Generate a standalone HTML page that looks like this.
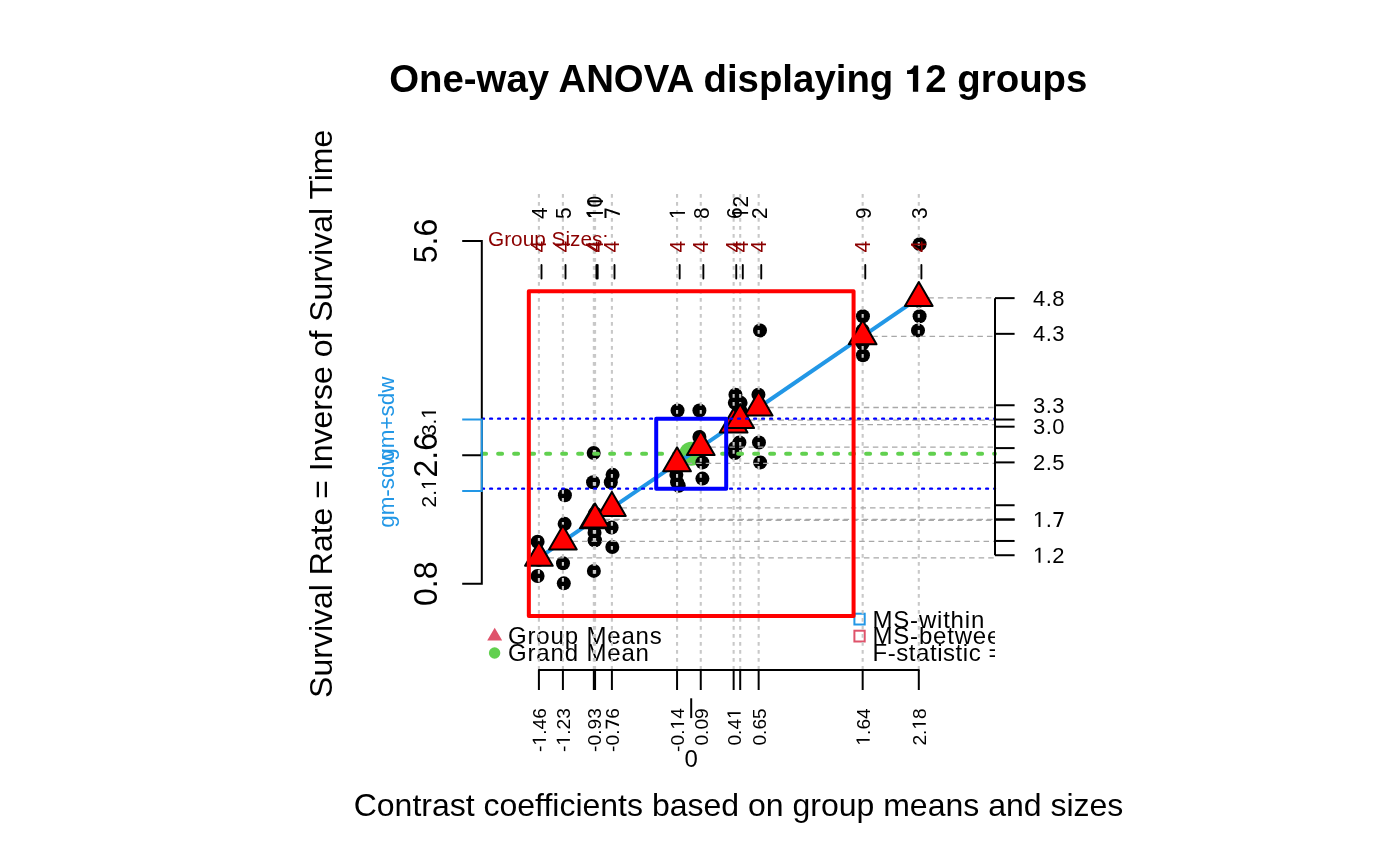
<!DOCTYPE html><html><head><meta charset="utf-8"><style>html,body{margin:0;padding:0;background:#fff;width:1400px;height:866px;overflow:hidden}svg{display:block;will-change:transform}text{font-family:"Liberation Sans",sans-serif}</style></head><body>
<svg width="1400" height="866" viewBox="0 0 1400 866">
<rect width="1400" height="866" fill="#fff"/>
<defs><clipPath id="pr"><rect x="481.8" y="150" width="513.2" height="520"/></clipPath></defs>
<text x="738.3" y="91.8" font-size="38.4" font-weight="bold" text-anchor="middle" fill="#000">One-way ANOVA displaying  2 groups</text><path transform="translate(903.956,91.800) scale(0.01875,-0.01875)" d="M478,0 L478,948 L165,948 L165,1147 C400,1147 500,1300 530,1409 L759,1409 L759,0 Z" fill="#000"/>
<text x="738.5" y="816" font-size="32" text-anchor="middle" fill="#000">Contrast coefficients based on group means and sizes</text>
<text transform="translate(332.3,413.8) rotate(-90)" font-size="32" text-anchor="middle" fill="#000">Survival Rate = Inverse of Survival Time</text>
<g clip-path="url(#pr)">
<polygon points="494.7,627.8 502.2,640.6 487.2,640.6" fill="#DF536B"/>
<circle cx="494.6" cy="653" r="5.7" fill="#61D04F"/>
<text x="508" y="644" font-size="24" letter-spacing="0.84" fill="#000">Group Means</text>
<text x="508" y="661.1" font-size="24" letter-spacing="0.84" fill="#000">Grand Mean</text>
<rect x="854.4" y="613.7" width="10.3" height="10.8" fill="none" stroke="#2297E6" stroke-width="2"/>
<rect x="854.4" y="630.7" width="10.3" height="10.8" fill="none" stroke="#DF536B" stroke-width="2"/>
<text x="872.5" y="627.7" font-size="24" letter-spacing="0.8" fill="#000">MS-within</text>
<text x="872.5" y="644.3" font-size="24" letter-spacing="0.8" fill="#000">MS-between</text>
<text x="872.5" y="661.3" font-size="24" letter-spacing="0.55" fill="#000">F-statistic = 21.53</text>
</g>
<circle cx="691.20" cy="453.65" r="12" fill="#61D04F"/>
<circle cx="677.56" cy="410.55" r="7" fill="#000"/>
<circle cx="677.06" cy="482.23" r="7" fill="#000"/>
<circle cx="678.76" cy="485.68" r="7" fill="#000"/>
<circle cx="676.36" cy="474.84" r="7" fill="#000"/>
<circle cx="758.95" cy="442.55" r="7" fill="#000"/>
<circle cx="758.45" cy="394.66" r="7" fill="#000"/>
<circle cx="760.15" cy="462.39" r="7" fill="#000"/>
<circle cx="760.00" cy="330.42" r="7" fill="#000"/>
<circle cx="919.60" cy="316.31" r="7" fill="#000"/>
<circle cx="918.80" cy="300.85" r="7" fill="#000"/>
<circle cx="919.60" cy="244.17" r="7" fill="#000"/>
<circle cx="918.00" cy="330.42" r="7" fill="#000"/>
<circle cx="538.90" cy="553.84" r="7" fill="#000"/>
<circle cx="537.60" cy="576.01" r="7" fill="#000"/>
<circle cx="538.90" cy="559.77" r="7" fill="#000"/>
<circle cx="537.60" cy="541.74" r="7" fill="#000"/>
<circle cx="563.01" cy="563.30" r="7" fill="#000"/>
<circle cx="564.61" cy="523.85" r="7" fill="#000"/>
<circle cx="564.91" cy="495.18" r="7" fill="#000"/>
<circle cx="563.81" cy="583.34" r="7" fill="#000"/>
<circle cx="734.84" cy="402.87" r="7" fill="#000"/>
<circle cx="734.84" cy="447.91" r="7" fill="#000"/>
<circle cx="734.84" cy="452.99" r="7" fill="#000"/>
<circle cx="735.44" cy="394.66" r="7" fill="#000"/>
<circle cx="612.60" cy="474.84" r="7" fill="#000"/>
<circle cx="610.80" cy="482.23" r="7" fill="#000"/>
<circle cx="611.60" cy="527.57" r="7" fill="#000"/>
<circle cx="612.30" cy="546.96" r="7" fill="#000"/>
<circle cx="702.41" cy="478.62" r="7" fill="#000"/>
<circle cx="699.41" cy="436.88" r="7" fill="#000"/>
<circle cx="699.41" cy="410.55" r="7" fill="#000"/>
<circle cx="702.41" cy="462.39" r="7" fill="#000"/>
<circle cx="862.67" cy="330.42" r="7" fill="#000"/>
<circle cx="862.97" cy="355.26" r="7" fill="#000"/>
<circle cx="862.67" cy="343.36" r="7" fill="#000"/>
<circle cx="862.97" cy="316.31" r="7" fill="#000"/>
<circle cx="593.04" cy="482.23" r="7" fill="#000"/>
<circle cx="594.54" cy="540.34" r="7" fill="#000"/>
<circle cx="594.54" cy="532.72" r="7" fill="#000"/>
<circle cx="593.84" cy="525.74" r="7" fill="#000"/>
<circle cx="595.07" cy="513.40" r="7" fill="#000"/>
<circle cx="593.87" cy="570.91" r="7" fill="#000"/>
<circle cx="595.07" cy="540.34" r="7" fill="#000"/>
<circle cx="593.67" cy="452.99" r="7" fill="#000"/>
<circle cx="740.60" cy="402.87" r="7" fill="#000"/>
<circle cx="739.40" cy="442.55" r="7" fill="#000"/>
<circle cx="740.20" cy="410.55" r="7" fill="#000"/>
<circle cx="740.20" cy="424.51" r="7" fill="#000"/>
<line x1="677.06" y1="194" x2="677.06" y2="670" stroke="#C8C8C8" stroke-width="2.1" stroke-dasharray="3.8 4.2"/>
<line x1="758.65" y1="194" x2="758.65" y2="670" stroke="#C8C8C8" stroke-width="2.1" stroke-dasharray="3.8 4.2"/>
<line x1="918.80" y1="194" x2="918.80" y2="670" stroke="#C8C8C8" stroke-width="2.1" stroke-dasharray="3.8 4.2"/>
<line x1="538.90" y1="194" x2="538.90" y2="670" stroke="#C8C8C8" stroke-width="2.1" stroke-dasharray="3.8 4.2"/>
<line x1="562.91" y1="194" x2="562.91" y2="670" stroke="#C8C8C8" stroke-width="2.1" stroke-dasharray="3.8 4.2"/>
<line x1="733.64" y1="194" x2="733.64" y2="670" stroke="#C8C8C8" stroke-width="2.1" stroke-dasharray="3.8 4.2"/>
<line x1="611.90" y1="194" x2="611.90" y2="670" stroke="#C8C8C8" stroke-width="2.1" stroke-dasharray="3.8 4.2"/>
<line x1="700.76" y1="194" x2="700.76" y2="670" stroke="#C8C8C8" stroke-width="2.1" stroke-dasharray="3.8 4.2"/>
<line x1="862.67" y1="194" x2="862.67" y2="670" stroke="#C8C8C8" stroke-width="2.1" stroke-dasharray="3.8 4.2"/>
<line x1="593.84" y1="194" x2="593.84" y2="670" stroke="#C8C8C8" stroke-width="2.1" stroke-dasharray="3.8 4.2"/>
<line x1="595.07" y1="194" x2="595.07" y2="670" stroke="#C8C8C8" stroke-width="2.1" stroke-dasharray="3.8 4.2"/>
<line x1="740.20" y1="194" x2="740.20" y2="670" stroke="#C8C8C8" stroke-width="2.1" stroke-dasharray="3.8 4.2"/>
<line x1="677.06" y1="463.32" x2="995" y2="463.32" stroke="#A8A8A8" stroke-width="1.3" stroke-dasharray="5.5 4.06"/>
<line x1="758.65" y1="407.51" x2="995" y2="407.51" stroke="#A8A8A8" stroke-width="1.3" stroke-dasharray="5.5 4.06"/>
<line x1="918.80" y1="297.94" x2="995" y2="297.94" stroke="#A8A8A8" stroke-width="1.3" stroke-dasharray="5.5 4.06"/>
<line x1="538.90" y1="557.84" x2="995" y2="557.84" stroke="#A8A8A8" stroke-width="1.3" stroke-dasharray="5.5 4.06"/>
<line x1="562.91" y1="541.42" x2="995" y2="541.42" stroke="#A8A8A8" stroke-width="1.3" stroke-dasharray="5.5 4.06"/>
<line x1="733.64" y1="424.61" x2="995" y2="424.61" stroke="#A8A8A8" stroke-width="1.3" stroke-dasharray="5.5 4.06"/>
<line x1="611.90" y1="507.90" x2="995" y2="507.90" stroke="#A8A8A8" stroke-width="1.3" stroke-dasharray="5.5 4.06"/>
<line x1="700.76" y1="447.11" x2="995" y2="447.11" stroke="#A8A8A8" stroke-width="1.3" stroke-dasharray="5.5 4.06"/>
<line x1="862.67" y1="336.34" x2="995" y2="336.34" stroke="#A8A8A8" stroke-width="1.3" stroke-dasharray="5.5 4.06"/>
<line x1="593.84" y1="520.26" x2="995" y2="520.26" stroke="#A8A8A8" stroke-width="1.3" stroke-dasharray="5.5 4.06"/>
<line x1="595.07" y1="519.41" x2="995" y2="519.41" stroke="#A8A8A8" stroke-width="1.3" stroke-dasharray="5.5 4.06"/>
<line x1="740.20" y1="420.12" x2="995" y2="420.12" stroke="#A8A8A8" stroke-width="1.3" stroke-dasharray="5.5 4.06"/>
<line x1="482.1" y1="453.65" x2="995" y2="453.65" stroke="#61D04F" stroke-width="4" stroke-dasharray="4 12" stroke-linecap="round"/>
<line x1="538.90" y1="557.84" x2="918.80" y2="297.94" stroke="#2297E6" stroke-width="4"/>
<polygon points="677.06,447.32 690.92,471.32 663.20,471.32" fill="#FF0000" stroke="#000" stroke-width="2" stroke-linejoin="round"/>
<polygon points="758.65,391.51 772.51,415.51 744.79,415.51" fill="#FF0000" stroke="#000" stroke-width="2" stroke-linejoin="round"/>
<polygon points="918.80,281.94 932.66,305.94 904.94,305.94" fill="#FF0000" stroke="#000" stroke-width="2" stroke-linejoin="round"/>
<polygon points="538.90,541.84 552.76,565.84 525.04,565.84" fill="#FF0000" stroke="#000" stroke-width="2" stroke-linejoin="round"/>
<polygon points="562.91,525.42 576.77,549.42 549.05,549.42" fill="#FF0000" stroke="#000" stroke-width="2" stroke-linejoin="round"/>
<polygon points="733.64,408.61 747.50,432.61 719.78,432.61" fill="#FF0000" stroke="#000" stroke-width="2" stroke-linejoin="round"/>
<polygon points="611.90,491.90 625.76,515.90 598.04,515.90" fill="#FF0000" stroke="#000" stroke-width="2" stroke-linejoin="round"/>
<polygon points="700.76,431.11 714.62,455.11 686.90,455.11" fill="#FF0000" stroke="#000" stroke-width="2" stroke-linejoin="round"/>
<polygon points="862.67,320.34 876.53,344.34 848.81,344.34" fill="#FF0000" stroke="#000" stroke-width="2" stroke-linejoin="round"/>
<polygon points="593.84,504.26 607.70,528.26 579.98,528.26" fill="#FF0000" stroke="#000" stroke-width="2" stroke-linejoin="round"/>
<polygon points="595.07,503.41 608.93,527.41 581.21,527.41" fill="#FF0000" stroke="#000" stroke-width="2" stroke-linejoin="round"/>
<polygon points="740.20,404.12 754.06,428.12 726.34,428.12" fill="#FF0000" stroke="#000" stroke-width="2" stroke-linejoin="round"/>
<line x1="482.2" y1="418.65" x2="995" y2="418.65" stroke="#0000FF" stroke-width="2.4" stroke-dasharray="1.8 6.2" stroke-linecap="round"/>
<line x1="482.2" y1="488.64" x2="995" y2="488.64" stroke="#0000FF" stroke-width="2.4" stroke-dasharray="1.8 6.2" stroke-linecap="round"/>
<rect x="528.83" y="291.27" width="324.75" height="324.75" fill="none" stroke="#FF0000" stroke-width="4" stroke-linejoin="round"/>
<rect x="656.21" y="418.65" width="69.99" height="69.99" fill="none" stroke="#0000FF" stroke-width="4" stroke-linejoin="round"/>
<path d="M462.2,240.99 H481.8 V583.80 H462.2" fill="none" stroke="#000" stroke-width="2"/>
<line x1="462.2" y1="455.25" x2="481.8" y2="455.25" stroke="#000" stroke-width="2"/>
<path d="M462.2,419.54 H481.8 V490.95 H462.2" fill="none" stroke="#2297E6" stroke-width="2"/>
<text transform="translate(436.5,240.99) rotate(-90) scale(1,1.05)" font-size="32" text-anchor="middle">5.6</text>
<text transform="translate(436.5,583.80) rotate(-90) scale(1,1.05)" font-size="32" text-anchor="middle">0.8</text>
<text transform="translate(436.5,455.25) rotate(-90) scale(1,1.05)" font-size="32" text-anchor="middle">2.6</text>
<text transform="translate(436,421.54) rotate(-90)" font-size="20.8" text-anchor="middle">3. </text><path transform="translate(436,421.54) rotate(-90) translate(2.883,0.000) scale(0.01016,-0.01016)" d="M515,0 L515,1237 L197,1010 L197,1180 L530,1409 L696,1409 L696,0 Z" fill="#000"/>
<text transform="translate(436,492.95) rotate(-90)" font-size="20.8" text-anchor="middle">2. </text><path transform="translate(436,492.95) rotate(-90) translate(2.883,0.000) scale(0.01016,-0.01016)" d="M515,0 L515,1237 L197,1010 L197,1180 L530,1409 L696,1409 L696,0 Z" fill="#000"/>
<text transform="translate(393.6,418.65) rotate(-90)" font-size="22.4" text-anchor="middle" fill="#2297E6">gm+sdw</text>
<text transform="translate(393.6,488.64) rotate(-90)" font-size="22.4" text-anchor="middle" fill="#2297E6">gm-sdw</text>
<line x1="995" y1="298.13" x2="995" y2="555.23" stroke="#000" stroke-width="2"/>
<line x1="995" y1="462.39" x2="1014.6" y2="462.39" stroke="#000" stroke-width="2"/>
<line x1="995" y1="555.23" x2="1014.6" y2="555.23" stroke="#000" stroke-width="2"/>
<line x1="995" y1="505.24" x2="1014.6" y2="505.24" stroke="#000" stroke-width="2"/>
<line x1="995" y1="519.52" x2="1014.6" y2="519.52" stroke="#000" stroke-width="2"/>
<line x1="995" y1="405.25" x2="1014.6" y2="405.25" stroke="#000" stroke-width="2"/>
<line x1="995" y1="540.95" x2="1014.6" y2="540.95" stroke="#000" stroke-width="2"/>
<line x1="995" y1="448.10" x2="1014.6" y2="448.10" stroke="#000" stroke-width="2"/>
<line x1="995" y1="519.52" x2="1014.6" y2="519.52" stroke="#000" stroke-width="2"/>
<line x1="995" y1="298.13" x2="1014.6" y2="298.13" stroke="#000" stroke-width="2"/>
<line x1="995" y1="426.68" x2="1014.6" y2="426.68" stroke="#000" stroke-width="2"/>
<line x1="995" y1="333.84" x2="1014.6" y2="333.84" stroke="#000" stroke-width="2"/>
<line x1="995" y1="419.54" x2="1014.6" y2="419.54" stroke="#000" stroke-width="2"/>
<text x="1033" y="305.73" font-size="22" letter-spacing="0.5">4.8</text>
<text x="1033" y="341.44" font-size="22" letter-spacing="0.5">4.3</text>
<text x="1033" y="412.85" font-size="22" letter-spacing="0.5">3.3</text>
<text x="1033" y="434.28" font-size="22" letter-spacing="0.5">3.0</text>
<text x="1033" y="469.99" font-size="22" letter-spacing="0.5">2.5</text>
<text x="1033" y="527.12" font-size="22" letter-spacing="0.5"> . </text><path transform="translate(1033.000,527.120) scale(0.01074,-0.01074)" d="M515,0 L515,1237 L197,1010 L197,1180 L530,1409 L696,1409 L696,0 Z" fill="#000"/><path transform="translate(1052.344,527.120) scale(0.01074,-0.01074)" d="M105,1409 L1040,1409 L1040,1275 L580,0 L360,0 L845,1225 L105,1225 Z" fill="#000"/>
<text x="1033" y="562.83" font-size="22" letter-spacing="0.5"> .2</text><path transform="translate(1033.000,562.830) scale(0.01074,-0.01074)" d="M515,0 L515,1237 L197,1010 L197,1180 L530,1409 L696,1409 L696,0 Z" fill="#000"/>
<line x1="538.90" y1="670" x2="918.80" y2="670" stroke="#000" stroke-width="2" stroke-linecap="round"/>
<line x1="677.06" y1="670" x2="677.06" y2="690" stroke="#000" stroke-width="2"/>
<line x1="758.65" y1="670" x2="758.65" y2="690" stroke="#000" stroke-width="2"/>
<line x1="918.80" y1="670" x2="918.80" y2="690" stroke="#000" stroke-width="2"/>
<line x1="538.90" y1="670" x2="538.90" y2="690" stroke="#000" stroke-width="2"/>
<line x1="562.91" y1="670" x2="562.91" y2="690" stroke="#000" stroke-width="2"/>
<line x1="733.64" y1="670" x2="733.64" y2="690" stroke="#000" stroke-width="2"/>
<line x1="611.90" y1="670" x2="611.90" y2="690" stroke="#000" stroke-width="2"/>
<line x1="700.76" y1="670" x2="700.76" y2="690" stroke="#000" stroke-width="2"/>
<line x1="862.67" y1="670" x2="862.67" y2="690" stroke="#000" stroke-width="2"/>
<line x1="593.84" y1="670" x2="593.84" y2="690" stroke="#000" stroke-width="2"/>
<line x1="595.07" y1="670" x2="595.07" y2="690" stroke="#000" stroke-width="2"/>
<line x1="740.20" y1="670" x2="740.20" y2="690" stroke="#000" stroke-width="2"/>
<text transform="translate(545.90,708.2) rotate(-90)" font-size="19.2" text-anchor="end">- .46</text><path transform="translate(545.90,708.2) rotate(-90) translate(-37.359,0.000) scale(0.00937,-0.00937)" d="M515,0 L515,1237 L197,1010 L197,1180 L530,1409 L696,1409 L696,0 Z" fill="#000"/>
<text transform="translate(569.91,708.2) rotate(-90)" font-size="19.2" text-anchor="end">- .23</text><path transform="translate(569.91,708.2) rotate(-90) translate(-37.359,0.000) scale(0.00937,-0.00937)" d="M515,0 L515,1237 L197,1010 L197,1180 L530,1409 L696,1409 L696,0 Z" fill="#000"/>
<text transform="translate(600.84,708.2) rotate(-90)" font-size="19.2" text-anchor="end">-0.93</text>
<text transform="translate(618.90,708.2) rotate(-90)" font-size="19.2" text-anchor="end">-0. 6</text><path transform="translate(618.90,708.2) rotate(-90) translate(-21.344,0.000) scale(0.00937,-0.00937)" d="M105,1409 L1040,1409 L1040,1275 L580,0 L360,0 L845,1225 L105,1225 Z" fill="#000"/>
<text transform="translate(684.06,708.2) rotate(-90)" font-size="19.2" text-anchor="end">-0. 4</text><path transform="translate(684.06,708.2) rotate(-90) translate(-21.344,0.000) scale(0.00937,-0.00937)" d="M515,0 L515,1237 L197,1010 L197,1180 L530,1409 L696,1409 L696,0 Z" fill="#000"/>
<text transform="translate(707.76,708.2) rotate(-90)" font-size="19.2" text-anchor="end">0.09</text>
<text transform="translate(740.64,708.2) rotate(-90)" font-size="19.2" text-anchor="end">0.4 </text><path transform="translate(740.64,708.2) rotate(-90) translate(-10.688,0.000) scale(0.00937,-0.00937)" d="M515,0 L515,1237 L197,1010 L197,1180 L530,1409 L696,1409 L696,0 Z" fill="#000"/>
<text transform="translate(765.65,708.2) rotate(-90)" font-size="19.2" text-anchor="end">0.65</text>
<text transform="translate(869.67,708.2) rotate(-90)" font-size="19.2" text-anchor="end"> .64</text><path transform="translate(869.67,708.2) rotate(-90) translate(-37.359,0.000) scale(0.00937,-0.00937)" d="M515,0 L515,1237 L197,1010 L197,1180 L530,1409 L696,1409 L696,0 Z" fill="#000"/>
<text transform="translate(925.80,708.2) rotate(-90)" font-size="19.2" text-anchor="end">2. 8</text><path transform="translate(925.80,708.2) rotate(-90) translate(-21.359,0.000) scale(0.00937,-0.00937)" d="M515,0 L515,1237 L197,1010 L197,1180 L530,1409 L696,1409 L696,0 Z" fill="#000"/>
<line x1="691.20" y1="698.3" x2="691.20" y2="718.1" stroke="#000" stroke-width="2"/>
<text x="691.20" y="767" font-size="24" text-anchor="middle">0</text>
<text transform="translate(684.96,219) rotate(-90) scale(1,1.07)" font-size="20.8"> </text><path transform="translate(684.96,219) rotate(-90) scale(1,1.07) translate(0.000,0.000) scale(0.01016,-0.01016)" d="M515,0 L515,1237 L197,1010 L197,1180 L530,1409 L696,1409 L696,0 Z" fill="#000"/>
<text transform="translate(684.56,252.6) rotate(-90) scale(1,1.07)" font-size="20.8" fill="#8B0000">4</text>
<line x1="679.66" y1="265" x2="679.66" y2="278.6" stroke="#000" stroke-width="1.9" stroke-linecap="round"/>
<text transform="translate(766.55,219) rotate(-90) scale(1,1.07)" font-size="20.8">2</text>
<text transform="translate(766.15,252.6) rotate(-90) scale(1,1.07)" font-size="20.8" fill="#8B0000">4</text>
<line x1="761.25" y1="265" x2="761.25" y2="278.6" stroke="#000" stroke-width="1.9" stroke-linecap="round"/>
<text transform="translate(926.70,219) rotate(-90) scale(1,1.07)" font-size="20.8">3</text>
<text transform="translate(926.30,252.6) rotate(-90) scale(1,1.07)" font-size="20.8" fill="#8B0000">4</text>
<line x1="921.40" y1="265" x2="921.40" y2="278.6" stroke="#000" stroke-width="1.9" stroke-linecap="round"/>
<text transform="translate(546.80,219) rotate(-90) scale(1,1.07)" font-size="20.8">4</text>
<text transform="translate(546.40,252.6) rotate(-90) scale(1,1.07)" font-size="20.8" fill="#8B0000">4</text>
<line x1="541.50" y1="265" x2="541.50" y2="278.6" stroke="#000" stroke-width="1.9" stroke-linecap="round"/>
<text transform="translate(570.81,219) rotate(-90) scale(1,1.07)" font-size="20.8">5</text>
<text transform="translate(570.41,252.6) rotate(-90) scale(1,1.07)" font-size="20.8" fill="#8B0000">4</text>
<line x1="565.51" y1="265" x2="565.51" y2="278.6" stroke="#000" stroke-width="1.9" stroke-linecap="round"/>
<text transform="translate(741.54,219) rotate(-90) scale(1,1.07)" font-size="20.8">6</text>
<text transform="translate(741.14,252.6) rotate(-90) scale(1,1.07)" font-size="20.8" fill="#8B0000">4</text>
<line x1="736.24" y1="265" x2="736.24" y2="278.6" stroke="#000" stroke-width="1.9" stroke-linecap="round"/>
<text transform="translate(619.80,219) rotate(-90) scale(1,1.07)" font-size="20.8"> </text><path transform="translate(619.80,219) rotate(-90) scale(1,1.07) translate(0.000,0.000) scale(0.01016,-0.01016)" d="M105,1409 L1040,1409 L1040,1275 L580,0 L360,0 L845,1225 L105,1225 Z" fill="#000"/>
<text transform="translate(619.40,252.6) rotate(-90) scale(1,1.07)" font-size="20.8" fill="#8B0000">4</text>
<line x1="614.50" y1="265" x2="614.50" y2="278.6" stroke="#000" stroke-width="1.9" stroke-linecap="round"/>
<text transform="translate(708.66,219) rotate(-90) scale(1,1.07)" font-size="20.8">8</text>
<text transform="translate(708.26,252.6) rotate(-90) scale(1,1.07)" font-size="20.8" fill="#8B0000">4</text>
<line x1="703.36" y1="265" x2="703.36" y2="278.6" stroke="#000" stroke-width="1.9" stroke-linecap="round"/>
<text transform="translate(870.57,219) rotate(-90) scale(1,1.07)" font-size="20.8">9</text>
<text transform="translate(870.17,252.6) rotate(-90) scale(1,1.07)" font-size="20.8" fill="#8B0000">4</text>
<line x1="865.27" y1="265" x2="865.27" y2="278.6" stroke="#000" stroke-width="1.9" stroke-linecap="round"/>
<text transform="translate(601.74,219) rotate(-90) scale(1,1.07)" font-size="20.8"> 0</text><path transform="translate(601.74,219) rotate(-90) scale(1,1.07) translate(0.000,0.000) scale(0.01016,-0.01016)" d="M515,0 L515,1237 L197,1010 L197,1180 L530,1409 L696,1409 L696,0 Z" fill="#000"/>
<text transform="translate(601.34,252.6) rotate(-90) scale(1,1.07)" font-size="20.8" fill="#8B0000">4</text>
<line x1="596.44" y1="265" x2="596.44" y2="278.6" stroke="#000" stroke-width="1.9" stroke-linecap="round"/>
<text transform="translate(602.97,219) rotate(-90) scale(1,1.07)" font-size="20.8">  </text><path transform="translate(602.97,219) rotate(-90) scale(1,1.07) translate(0.000,0.000) scale(0.01016,-0.01016)" d="M515,0 L515,1237 L197,1010 L197,1180 L530,1409 L696,1409 L696,0 Z" fill="#000"/><path transform="translate(602.97,219) rotate(-90) scale(1,1.07) translate(11.557,0.000) scale(0.01016,-0.01016)" d="M515,0 L515,1237 L197,1010 L197,1180 L530,1409 L696,1409 L696,0 Z" fill="#000"/>
<text transform="translate(602.57,252.6) rotate(-90) scale(1,1.07)" font-size="20.8" fill="#8B0000">4</text>
<line x1="597.67" y1="265" x2="597.67" y2="278.6" stroke="#000" stroke-width="1.9" stroke-linecap="round"/>
<text transform="translate(748.10,219) rotate(-90) scale(1,1.07)" font-size="20.8"> 2</text><path transform="translate(748.10,219) rotate(-90) scale(1,1.07) translate(0.000,0.000) scale(0.01016,-0.01016)" d="M515,0 L515,1237 L197,1010 L197,1180 L530,1409 L696,1409 L696,0 Z" fill="#000"/>
<text transform="translate(747.70,252.6) rotate(-90) scale(1,1.07)" font-size="20.8" fill="#8B0000">4</text>
<line x1="742.80" y1="265" x2="742.80" y2="278.6" stroke="#000" stroke-width="1.9" stroke-linecap="round"/>
<text x="488" y="246" font-size="20.8" fill="#8B0000">Group Sizes:</text>
</svg></body></html>
